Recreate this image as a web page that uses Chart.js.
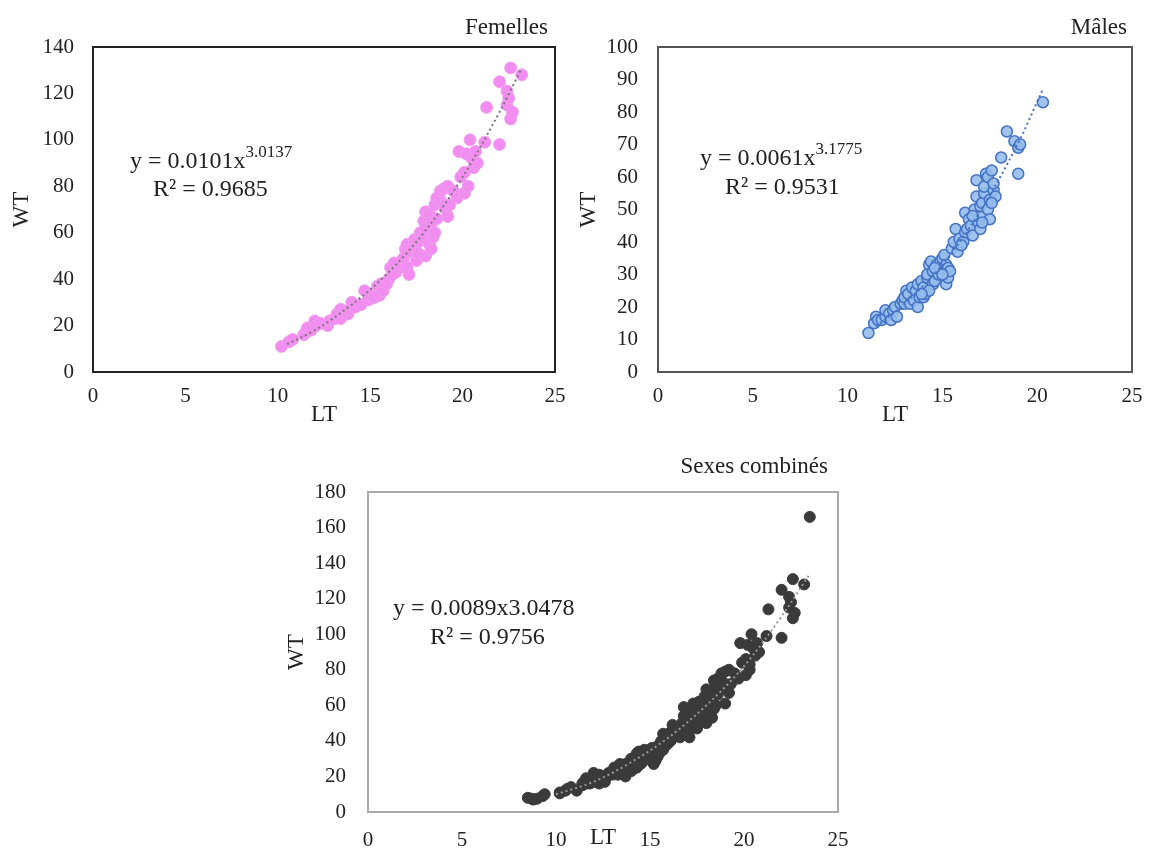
<!DOCTYPE html>
<html>
<head>
<meta charset="utf-8">
<script src="https://cdn.jsdelivr.net/npm/chart.js@4.4.1/dist/chart.umd.min.js"></script>
<style>
  body { margin: 0; background: #fff; width: 1153px; height: 855px; position: relative; overflow: hidden; }
  canvas { position: absolute; }
</style>
</head>
<body>
<canvas id="femChart" width="580" height="430" style="left:0px;top:0px"></canvas>
<canvas id="maleChart" width="588" height="430" style="left:565px;top:0px"></canvas>
<canvas id="allChart" width="580" height="415" style="left:280px;top:440px"></canvas>
<script>
// femelles : longueur totale (LT) et poids (WT)
const fem_lt = [10.2, 10.6, 10.8, 11.4, 11.5, 11.6, 11.8, 12.0, 12.1, 12.3, 12.7, 12.8, 13.1, 13.2, 13.4, 13.4,
  13.6, 13.8, 13.9, 14.0, 14.2, 14.5, 14.7, 14.9, 15.0, 15.2, 15.4, 15.5, 15.6, 15.7, 15.9, 16.0, 16.1, 16.2,
  16.3, 16.4, 16.6, 16.7, 16.8, 17.0, 17.1, 16.9, 17.0, 17.2, 17.3, 17.4, 17.5, 17.6, 17.6, 17.7, 17.9, 17.9,
  18.0, 18.0, 18.0, 18.2, 18.2, 18.3, 18.3, 18.4, 18.5, 18.5, 18.6, 18.6, 18.8, 18.8, 19.0, 19.0, 19.1, 19.2,
  19.2, 19.3, 19.5, 19.7, 19.8, 19.9, 20.1, 20.1, 20.2, 20.3, 20.4, 20.5, 20.6, 20.7, 20.8, 21.2, 21.3, 22.0,
  22.0, 22.4, 22.4, 22.5, 22.6, 22.6, 22.7, 23.2];
const fem_wt = [11, 13, 14, 16, 17, 19, 18, 22, 20, 21, 20, 22, 23, 25, 27, 23,
  26, 25, 27, 30, 28, 29, 35, 31, 33, 32, 37, 33, 38, 35, 38, 40, 45, 42,
  47, 43, 45, 46, 49, 45, 42, 53, 55, 52, 54, 57, 48, 51, 56, 60, 58, 65,
  50, 62, 69, 55, 68, 53, 64, 58, 60, 72, 66, 75, 74, 78, 72, 79, 70, 67,
  80, 72, 78, 75, 95, 84, 77, 86, 94, 80, 100, 92, 88, 95, 90, 99, 114, 98,
  125, 115, 121, 118, 109, 131, 112, 128];

// mâles
const male_lt = [11.1, 11.4, 11.5, 11.6, 11.8, 12.0, 12.0, 12.2, 12.3, 12.4, 12.5, 12.6, 12.8, 12.9, 13.0, 13.0,
  13.1, 13.2, 13.3, 13.4, 13.5, 13.6, 13.7, 13.7, 13.8, 13.9, 14.0, 14.0, 14.1, 14.2, 14.2, 14.3, 14.4, 14.5,
  14.5, 14.6, 14.7, 14.8, 14.9, 14.9, 15.0, 15.1, 15.2, 15.2, 15.3, 15.3, 15.4, 15.5, 15.6, 15.7, 15.8, 15.9,
  16.1, 16.2, 16.2, 16.3, 16.4, 16.5, 16.6, 16.7, 16.8, 16.8, 16.9, 17.0, 17.0, 17.0, 17.1, 17.2, 17.2, 17.3,
  17.4, 17.4, 17.5, 17.5, 17.6, 17.7, 17.7, 17.8, 18.1, 18.4, 18.8, 19.0, 19.0, 19.1, 20.3,
  14.3, 14.6, 15.0, 13.9, 16.0, 16.6, 17.1, 17.6];
const male_wt = [12, 15, 17, 16, 16, 17, 19, 18, 16, 19, 20, 17, 21, 22, 21, 23,
  25, 24, 21, 26, 22, 25, 20, 27, 23, 28, 23, 26, 24, 29, 30, 33, 34, 27,
  31, 28, 33, 30, 32, 34, 35, 36, 27, 33, 29, 32, 31, 38, 40, 44, 37, 41,
  40, 43, 49, 44, 47, 45, 42, 50, 54, 59, 46, 44, 48, 51, 52, 55, 57, 61,
  50, 60, 47, 53, 62, 56, 58, 54, 66, 74, 71, 61, 69, 70, 83,
  25, 32, 30, 24, 39, 48, 46, 52];

// individus non sexés (seulement dans "Sexes combinés")
const juv_lt = [8.5, 8.7, 8.8, 9.0, 9.3, 9.4, 10.2, 10.5, 23.5];
const juv_wt = [8, 7.5, 7, 7.5, 9, 10, 10.5, 12, 166];

// courbes de tendance (puissance)
const fem_trend_lt = [10.5, 12, 14, 16, 18, 20, 22, 23.2];
const fem_trend_wt = [12, 18, 29, 43, 61, 84, 112, 131];
const male_trend_lt = [11.5, 13, 15, 17, 19, 20.3];
const male_trend_wt = [14, 21, 33, 49.5, 70.5, 87];
const all_trend_lt = [10, 12, 14, 16, 18, 20, 22, 23.5];
const all_trend_wt = [10, 17, 28, 42, 60, 82, 110, 134];

const serif = '"Liberation Serif", "Times New Roman", serif';

function pts(xs, ys) {
  return xs.map((x, i) => ({x: x, y: ys[i]}));
}

const decor = {
  id: 'decor',
  afterDatasetsDraw(chart, args, o) {
    const ctx = chart.ctx, a = chart.chartArea;
    ctx.save();
    ctx.strokeStyle = o.frame;
    ctx.lineWidth = 2;
    ctx.strokeRect(a.left, a.top, a.right - a.left, a.bottom - a.top);
    ctx.fillStyle = '#222';
    ctx.textBaseline = 'alphabetic';
    ctx.textAlign = 'right';
    ctx.font = '23px ' + serif;
    ctx.fillText(o.title, o.titleX, o.titleY);
    ctx.textAlign = 'left';
    ctx.font = '24px ' + serif;
    ctx.fillText(o.eq, o.eqX, o.eqY);
    if (o.sup) {
      let w = ctx.measureText(o.eq).width;
      ctx.font = '17px ' + serif;
      ctx.fillText(o.sup, o.eqX + w, o.eqY - 11);
      ctx.font = '24px ' + serif;
    }
    ctx.fillText(o.r2, o.r2X, o.r2Y);
    ctx.restore();
  }
};

function makeChart(id, cfg) {
  let data = {
    datasets: [{
      data: cfg.trend,
      showLine: true,
      pointRadius: 0,
      borderColor: cfg.trendColor,
      borderWidth: 2,
      borderDash: [2, 3],
      cubicInterpolationMode: 'monotone',
      order: 0
    }, {
      data: cfg.points,
      pointRadius: cfg.radius,
      backgroundColor: cfg.fill,
      borderColor: cfg.stroke,
      borderWidth: cfg.strokeWidth,
      order: 1
    }]
  };
  let options = {
    responsive: false,
    animation: false,
    layout: {padding: cfg.padding},
    plugins: {legend: {display: false}, tooltip: {enabled: false}, decor: cfg.decor},
    scales: {
      x: {
        type: 'linear', min: 0, max: 25,
        grid: {display: false}, border: {display: false},
        ticks: {stepSize: 5, padding: cfg.xtp, color: '#222', font: {family: serif, size: 21}},
        title: {display: true, text: 'LT', color: '#222', font: {family: serif, size: 23}, padding: {top: 0, bottom: cfg.ltPad}},
        afterFit: function(s) { s.height = cfg.xh; }
      },
      y: {
        type: 'linear', min: 0, max: cfg.ymax,
        grid: {display: false}, border: {display: false},
        ticks: {stepSize: cfg.ystep, padding: cfg.ytp, color: '#222', font: {family: serif, size: 21}},
        title: {display: true, text: 'WT', color: '#222', font: {family: serif, size: 23}, padding: {top: cfg.wtPad, bottom: 0}},
        afterFit: function(s) { s.width = cfg.yw; }
      }
    }
  };
  return new Chart(document.getElementById(id), {type: 'scatter', data: data, options: options, plugins: [decor]});
}

makeChart('femChart', {
  points: pts(fem_lt, fem_wt),
  trend: pts(fem_trend_lt, fem_trend_wt),
  trendColor: '#777',
  radius: 6, fill: 'rgb(242,140,240)', stroke: 'rgba(235,160,235,0.9)', strokeWidth: 1,
  padding: {left: 0, right: 25, top: 47, bottom: 0},
  xh: 58, yw: 93, ymax: 140, ystep: 20, ltPad: 1, wtPad: 8, xtp: 4, ytp: 11,
  decor: {frame: '#222', title: 'Femelles', titleX: 548, titleY: 34,
    eq: 'y = 0.0101x', sup: '3.0137', eqX: 130, eqY: 168, r2: 'R² = 0.9685', r2X: 153, r2Y: 196}
});

makeChart('maleChart', {
  points: pts(male_lt, male_wt),
  trend: pts(male_trend_lt, male_trend_wt),
  trendColor: '#4472c4',
  radius: 5.5, fill: 'rgba(150,190,236,0.9)', stroke: 'rgb(68,114,196)', strokeWidth: 1.5,
  padding: {left: 0, right: 21, top: 47, bottom: 0},
  xh: 58, yw: 93, ymax: 100, ystep: 10, ltPad: 1, wtPad: 10, xtp: 4, ytp: 12,
  decor: {frame: '#555', title: 'Mâles', titleX: 562, titleY: 34,
    eq: 'y = 0.0061x', sup: '3.1775', eqX: 135, eqY: 165, r2: 'R² = 0.9531', r2X: 160, r2Y: 194}
});

makeChart('allChart', {
  points: pts(fem_lt, fem_wt).concat(pts(male_lt, male_wt), pts(juv_lt, juv_wt)),
  trend: pts(all_trend_lt, all_trend_wt),
  trendColor: '#999',
  radius: 5.5, fill: '#3a3a3a', stroke: '#3a3a3a', strokeWidth: 1,
  padding: {left: 0, right: 22, top: 52, bottom: 0},
  xh: 43, yw: 88, ymax: 180, ystep: 20, ltPad: 3, wtPad: 3, xtp: 8, ytp: 14,
  decor: {frame: '#aaa', title: 'Sexes combinés', titleX: 548, titleY: 33,
    eq: 'y = 0.0089x3.0478', sup: '', eqX: 113, eqY: 175, r2: 'R² = 0.9756', r2X: 150, r2Y: 204}
});
</script>
</body>
</html>
